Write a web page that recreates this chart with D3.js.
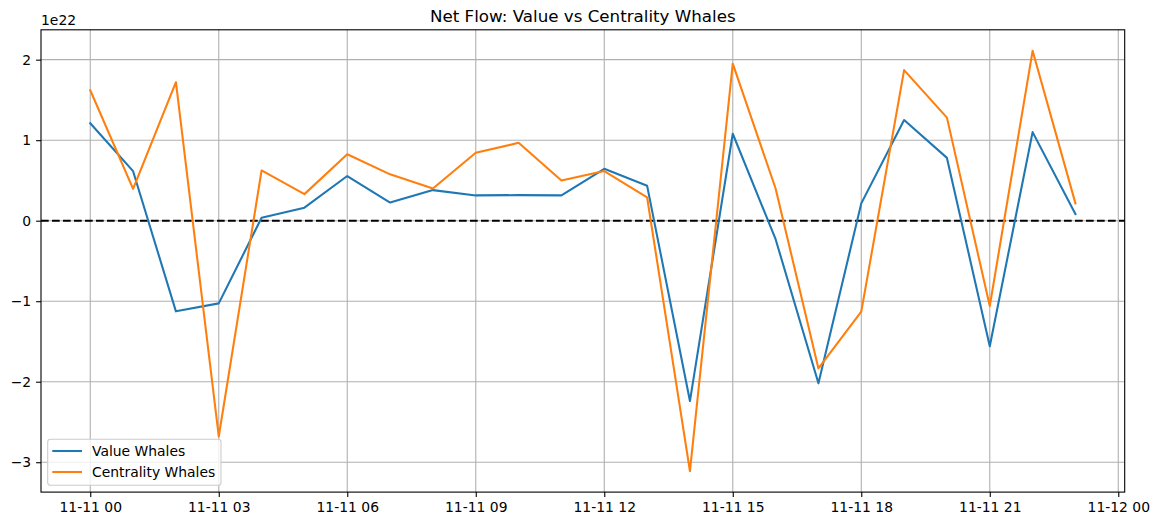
<!DOCTYPE html>
<html>
<head>
<meta charset="utf-8">
<script src="https://cdn.jsdelivr.net/npm/d3@7"></script>
<style>
  html, body { margin: 0; padding: 0; background: #fff; }
  svg { display: block; font-family: "DejaVu Sans", sans-serif; }
</style>
</head>
<body>
<svg id="chart" width="1160" height="526"></svg>
<script>
// ---- Data (values in units of 1e22) ----
const times = [
  "2024-11-11T00:00Z","2024-11-11T01:00Z","2024-11-11T02:00Z","2024-11-11T03:00Z",
  "2024-11-11T04:00Z","2024-11-11T05:00Z","2024-11-11T06:00Z","2024-11-11T07:00Z",
  "2024-11-11T08:00Z","2024-11-11T09:00Z","2024-11-11T10:00Z","2024-11-11T11:00Z",
  "2024-11-11T12:00Z","2024-11-11T13:00Z","2024-11-11T14:00Z","2024-11-11T15:00Z",
  "2024-11-11T16:00Z","2024-11-11T17:00Z","2024-11-11T18:00Z","2024-11-11T19:00Z",
  "2024-11-11T20:00Z","2024-11-11T21:00Z","2024-11-11T22:00Z","2024-11-11T23:00Z"
];
const valueWhales = [
  1.21, 0.615, -1.126, -1.027, 0.037, 0.162, 0.555, 0.225,
  0.38, 0.314, 0.318, 0.314, 0.645, 0.435, -2.24, 1.08,
  -0.23, -2.02, 0.215, 1.25, 0.78, -1.56, 1.10, 0.083
];
const centralityWhales = [
  1.62, 0.395, 1.72, -2.68, 0.624, 0.33, 0.825, 0.576,
  0.40, 0.843, 0.967, 0.50, 0.617, 0.29, -3.11, 1.95,
  0.40, -1.835, -1.13, 1.87, 1.28, -1.06, 2.11, 0.215
];
const seriesNames = ["Value Whales", "Centrality Whales"];
const seriesColors = ["#1f77b4", "#ff7f0e"];
const yTicks = [-3, -2, -1, 0, 1, 2];
const titleText = "Net Flow: Value vs Centrality Whales";
const exponentLabel = "1e22";

// ---- Layout ----
const svg = d3.select("#chart");
const L = 41, R = 1124.7, T = 29.8, B = 492.1;

const dates = times.map(t => new Date(t));
const tMin = d3.min(dates), tMax = d3.max(dates);
const span = tMax - tMin;
const x = d3.scaleUtc()
  .domain([new Date(+tMin - span * 0.05), new Date(+tMax + span * 0.05)])
  .range([L, R]);

const allVals = valueWhales.concat(centralityWhales);
const yMin = d3.min(allVals), yMax = d3.max(allVals);
const yPad = (yMax - yMin) * 0.05;
const y = d3.scaleLinear().domain([yMin - yPad, yMax + yPad]).range([B, T]);

const xTicks = d3.utcHour.every(3).range(tMin, new Date(+tMax + 2 * 3600e3));
const fmt = d3.utcFormat("%m-%d %H");
const minus = v => String(v).replace("-", "\u2212");

// Grid
const grid = svg.append("g").attr("stroke", "#b0b0b0").attr("stroke-width", 1.1);
xTicks.forEach(d => grid.append("line")
  .attr("x1", x(d)).attr("x2", x(d)).attr("y1", T).attr("y2", B));
yTicks.forEach(v => grid.append("line")
  .attr("x1", L).attr("x2", R).attr("y1", y(v)).attr("y2", y(v)));

// Axes via d3
const xAxis = d3.axisBottom(x).tickValues(xTicks).tickFormat(fmt).tickSizeOuter(0).tickSize(4.9).tickPadding(4.9);
const yAxis = d3.axisLeft(y).tickValues(yTicks).tickFormat(minus).tickSizeOuter(0).tickSize(4.9).tickPadding(4.9);

const gx = svg.append("g").attr("transform", `translate(0,${B})`).call(xAxis);
const gy = svg.append("g").attr("transform", `translate(${L},0)`).call(yAxis);
[gx, gy].forEach(g => {
  g.select(".domain").remove();
  g.selectAll(".tick line").attr("stroke", "#000").attr("stroke-width", 1.1);
  g.selectAll(".tick text").attr("fill", "#000")
    .style("font-family", "DejaVu Sans").style("font-size", "13.9px");
});

// Zero line
svg.append("line")
  .attr("x1", L).attr("x2", R).attr("y1", y(0)).attr("y2", y(0))
  .attr("stroke", "#000").attr("stroke-width", 2.08)
  .attr("stroke-dasharray", "7.7,3.3");

// Series
const line = d3.line().x((d, i) => x(dates[i])).y(d => y(d));
[valueWhales, centralityWhales].forEach((vals, k) => {
  svg.append("path").datum(vals)
    .attr("d", line)
    .attr("fill", "none")
    .attr("stroke", seriesColors[k])
    .attr("stroke-width", 2.08)
    .attr("stroke-linejoin", "round")
    .attr("stroke-linecap", "square");
});

// Spines
svg.append("rect")
  .attr("x", L).attr("y", T).attr("width", R - L).attr("height", B - T)
  .attr("fill", "none").attr("stroke", "#000").attr("stroke-width", 1.1);

// Title
svg.append("text")
  .attr("x", (L + R) / 2).attr("y", 22)
  .attr("text-anchor", "middle")
  .style("font-size", "16.7px")
  .text(titleText);

// Offset label
svg.append("text")
  .attr("x", L).attr("y", 25)
  .style("font-size", "13.9px")
  .text(exponentLabel);

// Legend
const lg = svg.append("g");
lg.append("rect")
  .attr("x", 47.7).attr("y", 439.3).attr("width", 173.3).attr("height", 46)
  .attr("rx", 2.8).attr("ry", 2.8)
  .attr("fill", "#fff").attr("fill-opacity", 0.8)
  .attr("stroke", "#cccccc").attr("stroke-width", 1.1);
seriesNames.forEach((name, k) => {
  const cy = 451 + k * 21;
  lg.append("line")
    .attr("x1", 52.3).attr("x2", 82).attr("y1", cy).attr("y2", cy)
    .attr("stroke", seriesColors[k]).attr("stroke-width", 2.08);
  lg.append("text")
    .attr("x", 92).attr("y", cy).attr("dy", "0.35em")
    .style("font-size", "13.9px")
    .text(name);
});
</script>
</body>
</html>
